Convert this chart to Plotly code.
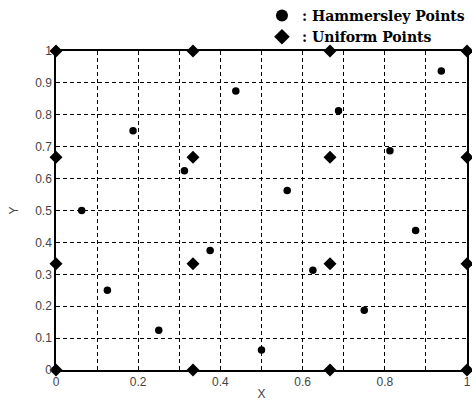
import plotly.graph_objects as go

# Hammersley points (N = 16)
ham_x = [0.0, 0.0625, 0.125, 0.1875, 0.25, 0.3125, 0.375, 0.4375, 0.5, 0.5625,
         0.625, 0.6875, 0.75, 0.8125, 0.875, 0.9375]
ham_y = [0.0, 0.5, 0.25, 0.75, 0.125, 0.625, 0.375, 0.875, 0.0625, 0.5625,
         0.3125, 0.8125, 0.1875, 0.6875, 0.4375, 0.9375]

# Uniform grid points (4 x 4)
uni_x = [0, 0, 0, 0, 0.3333, 0.3333, 0.3333, 0.3333,
         0.6667, 0.6667, 0.6667, 0.6667, 1, 1, 1, 1]
uni_y = [0, 0.3333, 0.6667, 1, 0, 0.3333, 0.6667, 1,
         0, 0.3333, 0.6667, 1, 0, 0.3333, 0.6667, 1]

x_tickvals = [0, 0.1, 0.2, 0.3, 0.4, 0.5, 0.6, 0.7, 0.8, 0.9, 1.0]
x_ticktext = ["0", "", "0.2", "", "0.4", "", "0.6", "", "0.8", "", "1"]
y_tickvals = [0, 0.1, 0.2, 0.3, 0.4, 0.5, 0.6, 0.7, 0.8, 0.9, 1.0]
y_ticktext = ["0", "0.1", "0.2", "0.3", "0.4", "0.5", "0.6", "0.7", "0.8", "0.9", "1"]

fig = go.Figure()
fig.add_trace(go.Scatter(x=ham_x, y=ham_y, mode="markers", name=": Hammersley Points",
                         marker=dict(symbol="circle", size=7.5, color="black"),
                         cliponaxis=False))
fig.add_trace(go.Scatter(x=uni_x, y=uni_y, mode="markers", name=": Uniform Points",
                         marker=dict(symbol="diamond", size=10, color="black"),
                         cliponaxis=False))

axis_common = dict(
    showline=True, linecolor="black", linewidth=1.5, mirror=True,
    showgrid=True, gridcolor="black", gridwidth=1, griddash="4px,3px",
    zeroline=False, ticks="", tickfont=dict(family="Liberation Sans", size=12, color="#444"),
)
fig.update_xaxes(range=[0, 1], tickvals=x_tickvals, ticktext=x_ticktext,
                 title=dict(text="X", font=dict(family="Liberation Sans", size=12, color="#444"),
                            standoff=2), **axis_common)
fig.update_yaxes(range=[0, 1], tickvals=y_tickvals, ticktext=y_ticktext,
                 title=dict(text="Y", font=dict(family="Liberation Sans", size=12, color="#444"),
                            standoff=14), **axis_common)

fig.update_layout(
    width=472, height=401,
    margin=dict(l=56, r=5, t=51, b=31, autoexpand=False),
    plot_bgcolor="white", paper_bgcolor="white",
    showlegend=True,
    legend=dict(x=0.555, y=1.012, xref="container", yref="container",
                xanchor="left", yanchor="top", itemsizing="constant",
                font=dict(family="DejaVu Serif", size=14, color="black", weight="bold"),
                bgcolor="rgba(0,0,0,0)", tracegroupgap=0, itemwidth=30),
)

fig.write_html("out.html")
